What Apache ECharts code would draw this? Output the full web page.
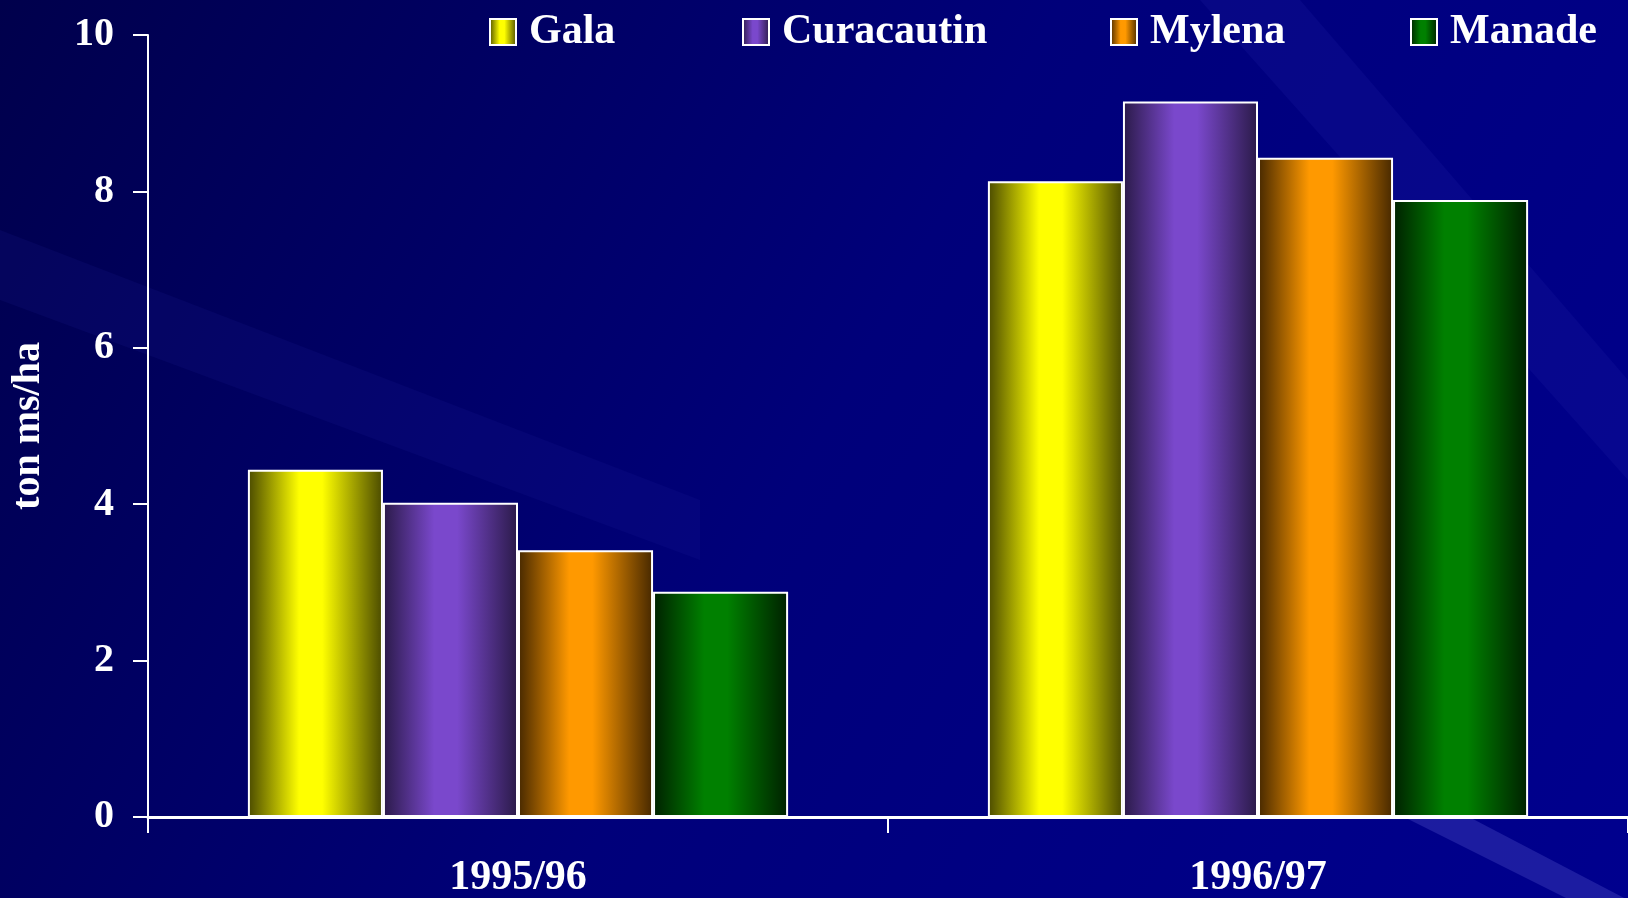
<!DOCTYPE html>
<html>
<head>
<meta charset="utf-8">
<script src="https://cdn.jsdelivr.net/npm/echarts@6/dist/echarts.min.js"></script>
<style>
html, body { margin: 0; padding: 0; }
#chart { width: 1628px; height: 898px; }
</style>
</head>
<body>
<div id="chart"></div>
<script>
// data
var seasons = ['1995/96', '1996/97']
var gala = [4.44, 8.13]
var curacautin = [4.02, 9.15]
var mylena = [3.41, 8.43]
var manade = [2.88, 7.89]
var yTicks = { min: 0, max: 10, interval: 2 }

var font = 'Liberation Serif'

function shade(dark, bright) {
  return {
    type: 'linear', x: 0, y: 0, x2: 1, y2: 0,
    colorStops: [
      { offset: 0, color: dark },
      { offset: 0.38, color: bright },
      { offset: 0.55, color: bright },
      { offset: 1, color: dark }
    ]
  }
}

var names = ['Gala', 'Curacautin', 'Mylena', 'Manade']
var values = [gala, curacautin, mylena, manade]
var colors = [
  shade('#4a4a00', '#ffff00'),
  shade('#2a1a48', '#7a48cc'),
  shade('#462800', '#ff9900'),
  shade('#002000', '#008000')
]
var legendLeft = [489, 742, 1110, 1410]

var chart = echarts.init(document.getElementById('chart'))

var option = {
  backgroundColor: {
    type: 'linear', x: 0, y: 0, x2: 1, y2: 1,
    colorStops: [
      { offset: 0, color: '#00004c' },
      { offset: 0.5, color: '#00007a' },
      { offset: 1, color: '#00008e' }
    ]
  },
  graphic: [
    {
      type: 'polygon', silent: true, z: -1,
      shape: { points: [[0, 230], [0, 300], [700, 560], [700, 500]] },
      style: { fill: 'rgba(40,40,170,0.12)' }
    },
    {
      type: 'polygon', silent: true, z: -1,
      shape: { points: [[1290, 760], [1360, 760], [1628, 900], [1570, 900]] },
      style: { fill: 'rgba(80,80,200,0.35)' }
    },
    {
      type: 'polygon', silent: true, z: -1,
      shape: { points: [[1200, 0], [1300, 0], [1628, 380], [1628, 480]] },
      style: { fill: 'rgba(40,40,170,0.18)' }
    }
  ],
  legend: names.map(function(n, i) {
    return {
      data: [{ name: n, icon: 'rect' }],
      left: legendLeft[i],
      top: 11,
      padding: 0,
      itemWidth: 26,
      itemHeight: 26,
      selectedMode: false,
      itemStyle: { borderColor: '#fff', borderWidth: 2 },
      textStyle: {
        color: '#fff', fontFamily: font, fontWeight: 'bold', fontSize: 42,
        padding: [15, 0, 0, 8]
      }
    }
  }),
  grid: { left: 148, right: 0, top: 35, bottom: 81, outerBoundsMode: 'none', containLabel: false },
  xAxis: {
    type: 'category',
    data: seasons,
    axisLine: { lineStyle: { color: '#fff', width: 3 } },
    axisTick: { show: true, length: 16, lineStyle: { color: '#fff', width: 2 } },
    axisLabel: {
      color: '#fff', fontFamily: font, fontWeight: 'bold', fontSize: 42, margin: 40
    }
  },
  yAxis: {
    type: 'value',
    min: yTicks.min,
    max: yTicks.max,
    interval: yTicks.interval,
    name: 'ton ms/ha',
    nameLocation: 'middle',
    nameGap: 99,
    nameRotate: 90,
    nameTextStyle: { color: '#fff', fontFamily: font, fontWeight: 'bold', fontSize: 40 },
    axisLine: { show: true, lineStyle: { color: '#fff', width: 2 } },
    axisTick: { show: true, length: 15, lineStyle: { color: '#fff', width: 2 } },
    splitLine: { show: false },
    axisLabel: {
      color: '#fff', fontFamily: font, fontWeight: 'bold', fontSize: 40, margin: 34
    }
  },
  series: names.map(function(n, i) {
    return {
      name: n,
      type: 'bar',
      data: values[i],
      barGap: '0%',
      barCategoryGap: '27%',
      itemStyle: { color: colors[i], borderColor: '#fff', borderWidth: 2 }
    }
  })
}

chart.setOption(option)
</script>
</body>
</html>
